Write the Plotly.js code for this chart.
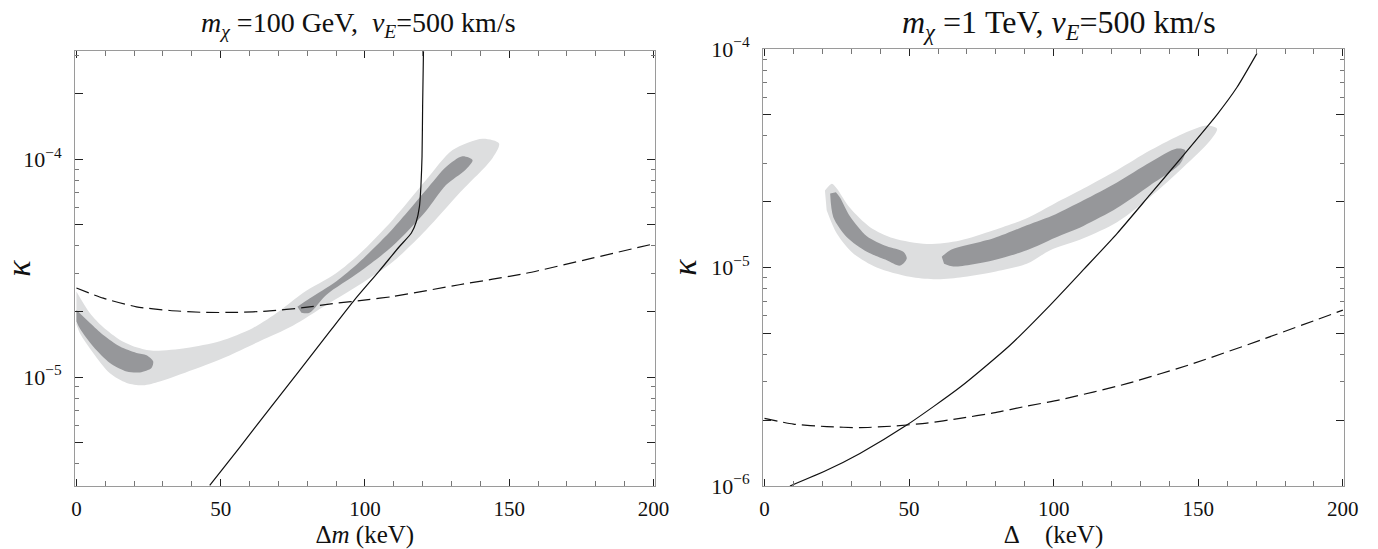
<!DOCTYPE html>
<html>
<head>
<meta charset="utf-8">
<script src="https://cdn.plot.ly/plotly-3.0.1.min.js"></script>
<style>html,body{margin:0;padding:0;background:#fff;}</style>
</head>
<body>
<div id="chart" style="width:1378px;height:549px;"></div>
<script>
// ---------- Left panel: m_chi = 100 GeV ----------
const leftSolidX = [46.2, 56.6, 67.0, 77.3, 87.7, 96.4, 105.0, 111.9, 116.1, 117.8, 118.9, 119.4, 119.8, 120.0, 120.3];
const leftSolidY = [3.18e-6, 4.76e-6, 7.16e-6, 1.07e-5, 1.61e-5, 2.26e-5, 3.07e-5, 3.96e-5, 4.58e-5, 5.16e-5, 6.05e-5, 7.46e-5, 1.03e-4, 1.74e-4, 3.16e-4];
const leftDashX = [0, 9.3, 20.8, 32.4, 43.9, 55.4, 67.0, 78.5, 90.0, 100.4, 109.6, 132.7, 155.8, 178.8, 200];
const leftDashY = [2.56e-5, 2.30e-5, 2.10e-5, 2.02e-5, 1.98e-5, 1.98e-5, 2.01e-5, 2.08e-5, 2.18e-5, 2.26e-5, 2.34e-5, 2.65e-5, 2.99e-5, 3.51e-5, 4.08e-5];
const leftLightX = [0, 4.7, 9.3, 15.1, 20.8, 26.6, 38.1, 49.7, 61.2, 70.4, 78.5, 90.0, 98.1, 109.6, 121.2, 130.4, 140.8, 146.5, 144.2, 132.7, 121.2, 109.6, 98.1, 86.6, 75.0, 63.5, 52.0, 40.4, 28.9, 23.1, 17.4, 11.6, 5.8, 1.2, 0];
const leftLightY = [2.47e-5, 1.96e-5, 1.69e-5, 1.48e-5, 1.37e-5, 1.32e-5, 1.36e-5, 1.46e-5, 1.68e-5, 2.01e-5, 2.43e-5, 2.99e-5, 3.67e-5, 5.26e-5, 8.01e-5, 1.10e-4, 1.24e-4, 1.18e-4, 1.01e-4, 6.97e-5, 4.73e-5, 3.37e-5, 2.65e-5, 2.14e-5, 1.72e-5, 1.46e-5, 1.24e-5, 1.08e-5, 9.55e-6, 9.17e-6, 9.40e-6, 1.04e-5, 1.29e-5, 1.59e-5, 1.74e-5];
const leftDarkAX = [0, 4.7, 9.3, 15.1, 20.8, 24.3, 26.6, 26.0, 22.0, 17.4, 11.6, 5.8, 1.2, 0];
const leftDarkAY = [2.03e-5, 1.77e-5, 1.56e-5, 1.38e-5, 1.29e-5, 1.26e-5, 1.18e-5, 1.10e-5, 1.05e-5, 1.06e-5, 1.16e-5, 1.38e-5, 1.67e-5, 1.80e-5];
const leftDarkBX = [76.6, 80.8, 90.0, 98.1, 109.6, 121.2, 128.1, 133.8, 137.3, 134.8, 128.1, 121.2, 109.6, 98.1, 86.6, 80.8, 78.0];
const leftDarkBY = [2.10e-5, 2.29e-5, 2.74e-5, 3.37e-5, 4.78e-5, 7.21e-5, 9.19e-5, 1.03e-4, 9.89e-5, 8.91e-5, 7.60e-5, 5.78e-5, 3.99e-5, 3.03e-5, 2.38e-5, 1.97e-5, 1.97e-5];

// ---------- Right panel: m_chi = 1 TeV ----------
const rightSolidX = [8.8, 21.5, 33.0, 49.2, 67.6, 84.9, 98.8, 110.3, 121.9, 133.4, 144.9, 156.5, 163.4, 170.3];
const rightSolidY = [1.0e-6, 1.18e-6, 1.41e-6, 1.90e-6, 2.83e-6, 4.41e-6, 6.73e-6, 9.77e-6, 1.43e-5, 2.16e-5, 3.27e-5, 5.01e-5, 6.68e-5, 9.55e-5];
const rightDashX = [0, 10, 21.5, 33.0, 44.6, 56.1, 67.6, 79.2, 90.7, 102.2, 125.3, 148.4, 171.5, 200];
const rightDashY = [2.04e-6, 1.92e-6, 1.87e-6, 1.85e-6, 1.88e-6, 1.94e-6, 2.04e-6, 2.16e-6, 2.32e-6, 2.48e-6, 2.94e-6, 3.64e-6, 4.65e-6, 6.38e-6];
const rightLightX = [20.9, 23.3, 25.0, 29.6, 36.5, 44.6, 56.1, 67.6, 79.2, 90.7, 100.5, 110.3, 121.9, 133.4, 144.9, 153.0, 156.5, 154.2, 144.9, 133.4, 121.9, 110.3, 98.8, 90.7, 79.2, 67.6, 58.4, 50.3, 38.8, 30.7, 25.0, 21.5];
const rightLightY = [2.25e-5, 2.42e-5, 2.30e-5, 1.87e-5, 1.53e-5, 1.36e-5, 1.28e-5, 1.33e-5, 1.48e-5, 1.68e-5, 1.97e-5, 2.30e-5, 2.79e-5, 3.44e-5, 4.11e-5, 4.47e-5, 4.32e-5, 3.82e-5, 2.88e-5, 2.10e-5, 1.61e-5, 1.36e-5, 1.20e-5, 1.04e-5, 9.54e-6, 9.00e-6, 8.83e-6, 9.06e-6, 1.00e-5, 1.16e-5, 1.43e-5, 1.83e-5];
const rightDarkCX = [24.7, 26.1, 29.6, 35.4, 42.3, 48.0, 49.2, 46.9, 42.3, 35.4, 28.4, 23.8, 22.7];
const rightDarkCY = [2.21e-5, 2.09e-5, 1.71e-5, 1.39e-5, 1.25e-5, 1.18e-5, 1.10e-5, 1.02e-5, 1.08e-5, 1.18e-5, 1.38e-5, 1.70e-5, 2.18e-5];
const rightDarkDX = [61.3, 64.2, 79.2, 90.7, 100.5, 110.3, 121.9, 133.4, 142.6, 145.5, 143.8, 133.4, 121.9, 110.3, 100.5, 90.7, 79.2, 65.3, 62.1];
const rightDarkDY = [1.12e-5, 1.20e-5, 1.36e-5, 1.56e-5, 1.75e-5, 2.03e-5, 2.45e-5, 3.03e-5, 3.50e-5, 3.44e-5, 2.99e-5, 2.38e-5, 1.87e-5, 1.55e-5, 1.37e-5, 1.20e-5, 1.08e-5, 1.01e-5, 1.04e-5];

// ---------- Ticks ----------
const xTickVals = [0, 50, 100, 150, 200];
const xTickText = ['0', '50', '100', '150', '200'];
const xMinorVals = [10, 20, 30, 40, 60, 70, 80, 90, 110, 120, 130, 140, 160, 170, 180, 190];
const leftYTickVals = [1e-5, 1e-4];
const leftYTickText = ['10<sup>\u22125</sup>', '10<sup>\u22124</sup>'];
const leftYMidVals = [5e-6, 2e-5, 5e-5, 2e-4];
const leftYMinor = [4e-6, 6e-6, 7e-6, 8e-6, 9e-6, 3e-5, 4e-5, 6e-5, 7e-5, 8e-5, 9e-5, 3e-4];
const rightYTickVals = [1e-6, 1e-5, 1e-4];
const rightYTickText = ['10<sup>\u22126</sup>', '10<sup>\u22125</sup>', '10<sup>\u22124</sup>'];
const rightYMidVals = [2e-6, 5e-6, 2e-5, 5e-5];
const rightYMinor = [3e-6, 4e-6, 6e-6, 7e-6, 8e-6, 9e-6, 3e-5, 4e-5, 6e-5, 7e-5, 8e-5, 9e-5];

const LIGHT = 'rgb(221,222,223)';
const DARK = 'rgb(150,151,154)';
const FONT = 'Liberation Serif, Times New Roman, serif';
const LEFT_RANGE = [-5.5, -3.505];
const RIGHT_RANGE = [-6, -4];

function region(x, y, color, xa, ya) {
  return {x: x, y: y, xaxis: xa, yaxis: ya, type: 'scatter', mode: 'lines',
    fill: 'toself', fillcolor: color, line: {width: 0, shape: 'spline', smoothing: 0.8, color: color},
    hoverinfo: 'skip', showlegend: false};
}
function curve(x, y, dash, xa, ya) {
  return {x: x, y: y, xaxis: xa, yaxis: ya, type: 'scatter', mode: 'lines',
    line: {color: '#111', width: 1.2, dash: dash, shape: 'spline', smoothing: 0.6},
    showlegend: false};
}

const traces = [
  region(leftLightX, leftLightY, LIGHT, 'x', 'y'),
  region(leftDarkAX, leftDarkAY, DARK, 'x', 'y'),
  region(leftDarkBX, leftDarkBY, DARK, 'x', 'y'),
  curve(leftDashX, leftDashY, '13px,6px', 'x', 'y'),
  curve(leftSolidX, leftSolidY, 'solid', 'x', 'y'),
  region(rightLightX, rightLightY, LIGHT, 'x2', 'y2'),
  region(rightDarkCX, rightDarkCY, DARK, 'x2', 'y2'),
  region(rightDarkDX, rightDarkDY, DARK, 'x2', 'y2'),
  curve(rightDashX, rightDashY, '13px,6px', 'x2', 'y2'),
  curve(rightSolidX, rightSolidY, 'solid', 'x2', 'y2'),
  // empty helper traces so the overlay tick axes exist
  {x: [], y: [], xaxis: 'x', yaxis: 'y3', type: 'scatter', mode: 'lines', showlegend: false, hoverinfo: 'skip'},
  {x: [], y: [], xaxis: 'x2', yaxis: 'y4', type: 'scatter', mode: 'lines', showlegend: false, hoverinfo: 'skip'}
];

function xAxis(domain, anchor, titleHtml) {
  return {domain: domain, anchor: anchor, range: [-0.5, 200.4], showgrid: false, zeroline: false,
    showline: true, linecolor: '#9a9a9a', linewidth: 1, mirror: 'ticks',
    ticks: 'inside', ticklen: 7, tickcolor: '#222', tickwidth: 1,
    tickmode: 'array', tickvals: xTickVals, ticktext: xTickText,
    minor: {tickmode: 'array', tickvals: xMinorVals, ticks: 'inside', ticklen: 5, tickcolor: '#777', tickwidth: 1},
    tickfont: {family: FONT, size: 21, color: '#111'}, ticklabelstandoff: 4,
    title: {text: titleHtml, font: {family: FONT, size: 25, color: '#111'}, standoff: 4}};
}
function yAxis(domain, anchor, range, tv, tt, minorVals) {
  return {domain: domain, anchor: anchor, type: 'log', range: range, showgrid: false, zeroline: false,
    showline: true, linecolor: '#9a9a9a', linewidth: 1, mirror: 'ticks',
    ticks: 'inside', ticklen: 8, tickcolor: '#222', tickwidth: 1,
    tickmode: 'array', tickvals: tv, ticktext: tt,
    minor: {tickmode: 'array', tickvals: minorVals, ticks: 'inside', ticklen: 4, tickcolor: '#777', tickwidth: 1},
    tickfont: {family: FONT, size: 22, color: '#111'}, ticklabelstandoff: 8,
    title: {text: '<i>\u03ba</i>', font: {family: FONT, size: 34, color: '#111'}, standoff: 4}};
}
function midAxis(over, anchor, domain, range, vals) {
  return {overlaying: over, anchor: anchor, domain: domain, side: 'left', type: 'log', range: range,
    showgrid: false, zeroline: false, showline: false, mirror: 'ticks',
    tickmode: 'array', tickvals: vals, ticks: 'inside', ticklen: 8, tickcolor: '#222', tickwidth: 1,
    showticklabels: false};
}

const layout = {
  width: 1378, height: 549,
  margin: {l: 75, r: 34, t: 48.5, b: 63},
  paper_bgcolor: '#fff', plot_bgcolor: '#fff',
  showlegend: false,
  xaxis: xAxis([0, 0.4567], 'y', '\u0394<i>m</i> (keV)'),
  yaxis: yAxis([0, 0.995], 'x', LEFT_RANGE, leftYTickVals, leftYTickText, leftYMinor),
  xaxis2: xAxis([0.5422, 1], 'y2', '\u0394\u00a0\u00a0\u00a0\u00a0(keV)'),
  yaxis2: yAxis([0, 1], 'x2', RIGHT_RANGE, rightYTickVals, rightYTickText, rightYMinor),
  yaxis3: midAxis('y', 'x', [0, 0.995], LEFT_RANGE, leftYMidVals),
  yaxis4: midAxis('y2', 'x2', [0, 1], RIGHT_RANGE, rightYMidVals),
  annotations: [
    {xref: 'x domain', yref: 'paper', x: 0.49, y: 1.057, xanchor: 'center', yanchor: 'middle', showarrow: false,
     text: '<i>m</i><sub><i>\u03c7</i></sub> =100 GeV,\u00a0\u00a0<i>v</i><sub><i>E</i></sub>=500 km/s',
     font: {family: FONT, size: 28, color: '#111'}},
    {xref: 'x2 domain', yref: 'paper', x: 0.51, y: 1.057, xanchor: 'center', yanchor: 'middle', showarrow: false,
     text: '<i>m</i><sub><i>\u03c7</i></sub> =1 TeV, <i>v</i><sub><i>E</i></sub>=500 km/s',
     font: {family: FONT, size: 32, color: '#111'}}
  ]
};

Plotly.newPlot('chart', traces, layout, {staticPlot: true, displayModeBar: false});
</script>
</body>
</html>
